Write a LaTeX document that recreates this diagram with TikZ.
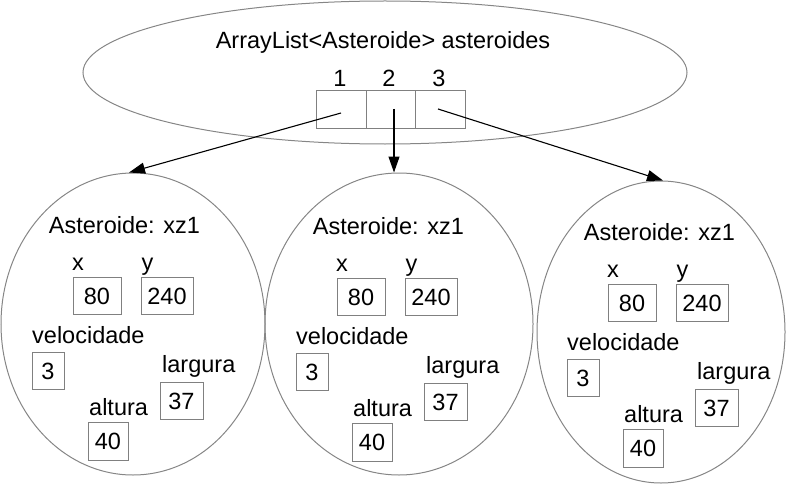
\documentclass[tikz,border=0pt]{standalone}
\usepackage{fontspec}
\setmainfont{Liberation Sans}
\usetikzlibrary{shapes.geometric,arrows.meta}
\begin{document}
\begin{tikzpicture}[x=1pt,y=-1pt,
  font=\fontsize{23.5}{28}\selectfont,
  oval/.style={draw=gray!95,line width=1pt,ellipse,inner sep=0pt},
  valbox/.style={draw=gray,line width=1pt,inner sep=0pt,minimum height=37pt,text height=17pt,text depth=0pt},
  cell/.style={draw=gray,line width=1pt,inner sep=0pt,minimum width=49.5pt,minimum height=37pt},
  lbl/.style={inner sep=0pt,anchor=base},
  lbll/.style={inner sep=0pt,anchor=base west},
  ptr/.style={draw=black,line width=1.1pt,-{Triangle[length=16pt,width=11pt]}}]
\useasboundingbox (0,0) rectangle (786,484);
% top ellipse
\node[oval,minimum width=604pt,minimum height=143pt] (top) at (385,72.5) {};
\node[lbl] (title) at (383,49) {ArrayList<Asteroide> asteroides};
\node[cell] (c1) at (341.5,109.5) {};
\node[cell] (c2) at (391,109.5) {};
\node[cell] (c3) at (440.5,109.5) {};
\node[lbl] (n1) at (340,87) {1};
\node[lbl] (n2) at (389,87) {2};
\node[lbl] (n3) at (439,87) {3};
% asteroid ellipses
\node[oval,minimum width=264pt,minimum height=302pt] (e1) at (133,324) {};
\node[oval,minimum width=268pt,minimum height=302pt] (e2) at (399,324) {};
\node[oval,minimum width=248pt,minimum height=302pt] (e3) at (661,332) {};
% asteroid contents
\foreach \i/\dx/\dy in {1/0/0, 2/264/1, 3/535/7}{
  \begin{scope}[shift={(\dx,\dy)}]
    \node[lbl] (h\i) at (124.5,233) {Asteroide: xz1};
    \node[lbl] (lx\i) at (78,270) {x};
    \node[lbl] (ly\i) at (147.5,270) {y};
    \node[valbox,minimum width=48pt] (vx\i) at (97,295.5) {80};
    \node[valbox,minimum width=52pt] (vy\i) at (167,295.5) {240};
    \node[lbll] (lv\i) at (32,343) {velocidade};
    \node[valbox,minimum width=32pt] (vv\i) at (48,370.5) {3};
    \node[lbll] (ll\i) at (162,372) {largura};
    \node[valbox,minimum width=43pt] (vl\i) at (181.5,400.5) {37};
    \node[lbll] (la\i) at (89,415) {altura};
    \node[valbox,minimum width=40pt,minimum height=38pt] (va\i) at (108,441) {40};
  \end{scope}
}
% pointers
\coordinate (s1) at (341,113);
\coordinate (s2) at (394,109);
\coordinate (s3) at (438,109);
\draw[ptr] (s1) -- ([xshift=-4pt]e1.north);
\draw[ptr] (s2) -- (s2 |- e2.north);
\draw[ptr] (s3) -- ([xshift=2pt]e3.north);
\end{tikzpicture}
\end{document}
